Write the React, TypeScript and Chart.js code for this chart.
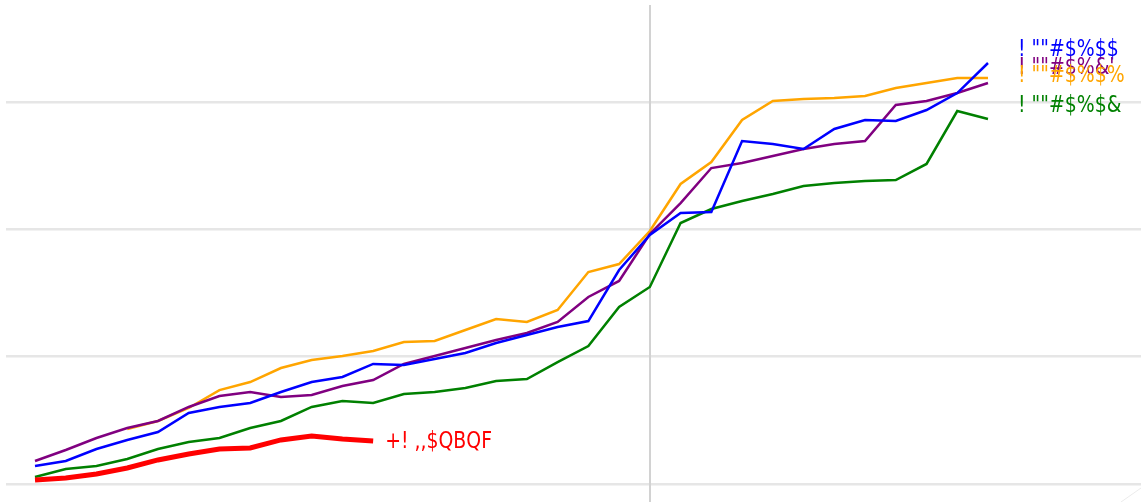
import React, { useEffect, useRef } from "react";
import { Chart, registerables } from "chart.js";

Chart.register(...registerables);

// x categories (period index)
const periods = [0, 1, 2, 3, 4, 5, 6, 7, 8, 9, 10, 11, 12, 13, 14, 15, 16, 17, 18, 19, 20, 21, 22, 23, 24, 25, 26, 27, 28, 29, 30, 31];

const redValues = [0.031, 0.047, 0.079, 0.126, 0.189, 0.236, 0.275, 0.283, 0.346, 0.377, 0.354, 0.338];

const blueValues = [0.141, 0.181, 0.275, 0.346, 0.408, 0.558, 0.605, 0.636, 0.723, 0.801, 0.841, 0.943, 0.935, 0.982, 1.029, 1.108, 1.17, 1.233, 1.28, 1.681, 1.956, 2.129, 2.137, 2.694, 2.671, 2.632, 2.789, 2.859, 2.852, 2.938, 3.071, 3.307];

const purpleValues = [0.181, 0.267, 0.361, 0.44, 0.495, 0.605, 0.691, 0.723, 0.683, 0.699, 0.77, 0.817, 0.943, 1.005, 1.068, 1.131, 1.186, 1.273, 1.469, 1.595, 1.964, 2.207, 2.482, 2.522, 2.577, 2.632, 2.671, 2.694, 2.977, 3.009, 3.071, 3.15];

const orangeValues = [null, null, null, 0.432, 0.495, 0.597, 0.738, 0.801, 0.911, 0.974, 1.005, 1.045, 1.115, 1.123, 1.21, 1.296, 1.273, 1.367, 1.665, 1.728, 1.987, 2.357, 2.529, 2.859, 3.009, 3.024, 3.032, 3.048, 3.111, 3.15, 3.189, 3.189];

const greenValues = [0.055, 0.118, 0.141, 0.196, 0.275, 0.33, 0.361, 0.44, 0.495, 0.605, 0.652, 0.636, 0.707, 0.723, 0.754, 0.809, 0.825, 0.958, 1.084, 1.39, 1.548, 2.05, 2.16, 2.223, 2.278, 2.341, 2.365, 2.38, 2.388, 2.514, 2.93, 2.867];

const yTicks = [0, 1, 2, 3];
const markerPeriod = 20;

const seriesNames = ['! ""#$%$$', "! \"\"#$%&'", '! ""#$%$%', '! ""#$%$&', "+! ,,$QBQF"];
const labelValues = [3.409, 3.268, 3.205, 2.969, 0.33];

const COLORS = ["#0000ff", "#800080", "#ffa500", "#008000", "#ff0000"];
const FONT = '23px "DejaVu Sans", sans-serif';
const TEXT_SCALE_X = 0.82;

function toPoints(vals: (number | null)[]) {
  return vals.map((v, i) => ({ x: periods[i], y: v }));
}

export default function App() {
  const ref = useRef<HTMLCanvasElement | null>(null);

  useEffect(() => {
    document.body.style.margin = "0";
    const canvas = ref.current;
    if (!canvas) return;

    const pxPerUnitX = (988 - 35) / 31;
    const xMin = -29 / pxPerUnitX;
    const xMax = xMin + 1135 / pxPerUnitX;
    const pxPerUnitY = 127.3;
    const yMin = -18 / pxPerUnitY;
    const yMax = 484 / pxPerUnitY;

    const overlay = {
      id: "overlay",
      beforeDatasetsDraw(chart: any) {
        const ctx = chart.ctx;
        const xs = chart.scales.x;
        const x = Math.round(xs.getPixelForValue(periods[markerPeriod]));
        ctx.save();
        ctx.strokeStyle = "#d2d2d2";
        ctx.lineWidth = 2;
        ctx.beginPath();
        ctx.moveTo(x, 5);
        ctx.lineTo(x, chart.height);
        ctx.stroke();
        // faint corner stroke
        ctx.strokeStyle = "#ececec";
        ctx.lineWidth = 1;
        ctx.beginPath();
        ctx.moveTo(chart.width - 20, chart.height);
        ctx.lineTo(chart.width, chart.height - 14);
        ctx.stroke();
        ctx.restore();
      },
      afterDatasetsDraw(chart: any) {
        const ctx = chart.ctx;
        const xs = chart.scales.x;
        const ys = chart.scales.y;
        const ends = [blueValues.length, purpleValues.length, orangeValues.length, greenValues.length, redValues.length];
        const gaps = [30, 30, 30, 30, 12];
        for (let i = 0; i < seriesNames.length; i++) {
          const lastX = xs.getPixelForValue(periods[ends[i] - 1]);
          ctx.save();
          ctx.font = FONT;
          ctx.textBaseline = "middle";
          ctx.textAlign = "left";
          ctx.fillStyle = COLORS[i];
          ctx.translate(lastX + gaps[i], ys.getPixelForValue(labelValues[i]));
          ctx.scale(TEXT_SCALE_X, 1);
          ctx.fillText(seriesNames[i], 0, 0);
          ctx.restore();
        }
      },
    };

    const chart = new Chart(canvas, {
      type: "line",
      data: {
        datasets: [
          { label: seriesNames[4], data: toPoints(redValues), borderColor: COLORS[4], borderWidth: 5 },
          { label: seriesNames[0], data: toPoints(blueValues), borderColor: COLORS[0], borderWidth: 2.5 },
          { label: seriesNames[1], data: toPoints(purpleValues), borderColor: COLORS[1], borderWidth: 2.5 },
          { label: seriesNames[2], data: toPoints(orangeValues), borderColor: COLORS[2], borderWidth: 2.5 },
          { label: seriesNames[3], data: toPoints(greenValues), borderColor: COLORS[3], borderWidth: 2.5 },
        ].map((d) => ({ ...d, pointRadius: 0, tension: 0, fill: false, spanGaps: false })) as any,
      },
      options: {
        animation: false,
        responsive: false,
        maintainAspectRatio: false,
        layout: { padding: { left: 6, right: 0, top: 0, bottom: 0 } },
        plugins: { legend: { display: false }, tooltip: { enabled: false } },
        scales: {
          x: { type: "linear", min: xMin, max: xMax, display: false },
          y: {
            type: "linear",
            min: yMin,
            max: yMax,
            afterBuildTicks: (scale: any) => {
              scale.ticks = yTicks.map((v) => ({ value: v }));
            },
            ticks: { display: false },
            border: { display: false },
            grid: { color: "#e6e6e6", lineWidth: 2.5, drawTicks: false },
          },
        },
      },
      plugins: [overlay],
    });
    return () => chart.destroy();
  }, []);

  return (
    <div style={{ width: 1141, height: 502 }}>
      <canvas ref={ref} width={1141} height={502} style={{ display: "block" }} />
    </div>
  );
}
